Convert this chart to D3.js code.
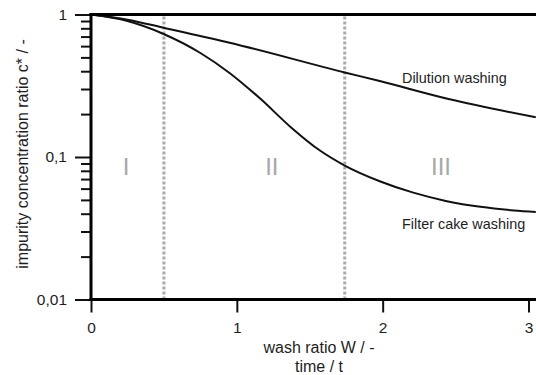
<!DOCTYPE html>
<html>
<head>
<meta charset="utf-8">
<script src="https://cdn.jsdelivr.net/npm/d3@7"></script>
<style>
  body { margin: 0; background: #fff; }
  svg text { font-family: "Liberation Sans", Arial, sans-serif; fill: #1e1e1e; }
</style>
</head>
<body>
<script>
// values

// dilution washing curve
var dilutionW = [0, 0.25, 0.49, 0.95, 1.74, 1.98, 2.46, 3.05];
var dilutionC = [1, 0.92, 0.81, 0.634, 0.392, 0.341, 0.254, 0.19];

// filter cake washing curve
var cakeW = [0, 0.25, 0.49, 0.75, 0.95, 1.16, 1.37, 1.57, 1.74, 1.98, 2.21, 2.44, 2.67, 2.90, 3.05];
var cakeC = [1, 0.90, 0.736, 0.537, 0.389, 0.257, 0.162, 0.111, 0.0871, 0.0676, 0.0562, 0.049, 0.0447, 0.0422, 0.0412];

// region borders and labels
var borders = [0.5, 1.74];
var regionNames = ["I", "II", "III"];
var regionW = [0.24, 1.24, 2.4];

// axis ticks
var xTicks = [0, 1, 2, 3];
var yMajor = [1, 0.1, 0.01];
var yMinor = [0.9, 0.8, 0.7, 0.6, 0.5, 0.4, 0.3, 0.2,
              0.09, 0.08, 0.07, 0.06, 0.05, 0.04, 0.03, 0.02];

var svgWidth = 536, svgHeight = 375;
var plotLeft = 91, plotTop = 14.5, plotBottom = 299.5;

var svg = d3.select("body")
            .append("svg")
            .attr("width", svgWidth)
            .attr("height", svgHeight);

var xScale = d3.scaleLinear()
               .domain([0, 3])
               .range([plotLeft, 528.5]);

var yScale = d3.scaleLog()
               .domain([0.01, 1])
               .range([plotBottom, plotTop]);

// comma as decimal mark
var locale = d3.formatLocale({decimal: ",", thousands: ".", grouping: [3], currency: ["", ""]});
var fmt = locale.format("~g");

// clip so the curves stop at the picture border
svg.append("clipPath")
   .attr("id", "plotclip")
   .append("rect")
   .attr("x", plotLeft)
   .attr("y", 0)
   .attr("width", svgWidth - plotLeft)
   .attr("height", plotBottom);

// dotted region borders
svg.selectAll(".border")
   .data(borders)
   .enter()
   .append("line")
   .attr("class", "border")
   .attr("x1", function(d) { return xScale(d); })
   .attr("x2", function(d) { return xScale(d); })
   .attr("y1", plotTop + 2)
   .attr("y2", plotBottom - 1)
   .style("stroke", "#ababab")
   .style("stroke-width", 3)
   .style("stroke-dasharray", "3,2");

// roman region labels
svg.selectAll(".region")
   .data(regionNames)
   .enter()
   .append("text")
   .attr("class", "region")
   .attr("x", function(d, i) { return xScale(regionW[i]); })
   .attr("y", 175)
   .style("text-anchor", "middle")
   .style("font-size", "24px")
   .style("fill", "#a8a8a8")
   .text(function(d) { return d; });

// curves
var line = d3.line()
             .x(function(d) { return xScale(d[0]); })
             .y(function(d) { return yScale(d[1]); })
             .curve(d3.curveMonotoneX);

var dilution = dilutionW.map(function(w, i) { return [w, dilutionC[i]]; });
var cake = cakeW.map(function(w, i) { return [w, cakeC[i]]; });

[dilution, cake].forEach(function(series) {
  svg.append("path")
     .datum(series)
     .attr("clip-path", "url(#plotclip)")
     .attr("d", line)
     .style("fill", "none")
     .style("stroke", "#111")
     .style("stroke-width", 2);
});

// y axis, major and minor ticks
svg.append("g")
   .attr("transform", "translate(" + plotLeft + ",0)")
   .call(d3.axisLeft(yScale).tickValues(yMajor).tickFormat(fmt).tickSize(16).tickPadding(8).tickSizeOuter(0));

svg.append("g")
   .attr("transform", "translate(" + plotLeft + ",0)")
   .call(d3.axisLeft(yScale).tickValues(yMinor).tickFormat("").tickSize(10).tickSizeOuter(0));

// x axis
svg.append("g")
   .attr("transform", "translate(0," + plotBottom + ")")
   .call(d3.axisBottom(xScale).tickValues(xTicks).tickFormat(d3.format("d")).tickSize(13).tickPadding(9).tickSizeOuter(0));

svg.selectAll(".domain").remove();
svg.selectAll(".tick line").style("stroke", "#111").style("stroke-width", 2);
svg.selectAll(".tick text").style("font-size", "15.5px").style("fill", "#1e1e1e")
   .style("font-family", "'Liberation Sans', Arial, sans-serif");

// frame lines: left, bottom, top
svg.append("line")
   .attr("x1", plotLeft).attr("x2", plotLeft)
   .attr("y1", plotTop - 1.5).attr("y2", plotBottom + 1.5)
   .style("stroke", "#000").style("stroke-width", 3);
svg.append("line")
   .attr("x1", plotLeft - 1.5).attr("x2", svgWidth)
   .attr("y1", plotBottom).attr("y2", plotBottom)
   .style("stroke", "#000").style("stroke-width", 3);
svg.append("line")
   .attr("x1", plotLeft - 1.5).attr("x2", svgWidth)
   .attr("y1", plotTop).attr("y2", plotTop)
   .style("stroke", "#000").style("stroke-width", 3);

// curve names
svg.append("text")
   .attr("x", 402)
   .attr("y", 83)
   .style("font-size", "14.4px")
   .text("Dilution washing");

svg.append("text")
   .attr("x", 402)
   .attr("y", 229)
   .style("font-size", "14.4px")
   .text("Filter cake washing");

// axis titles
svg.append("text")
   .attr("transform", "translate(28,154) rotate(-90)")
   .style("text-anchor", "middle")
   .style("font-size", "16px")
   .text("impurity concentration ratio c* / -");

svg.append("text")
   .attr("x", 319)
   .attr("y", 353)
   .style("text-anchor", "middle")
   .style("font-size", "16px")
   .text("wash ratio W / -");

svg.append("text")
   .attr("x", 319)
   .attr("y", 372)
   .style("text-anchor", "middle")
   .style("font-size", "16px")
   .text("time / t");
</script>
</body>
</html>
